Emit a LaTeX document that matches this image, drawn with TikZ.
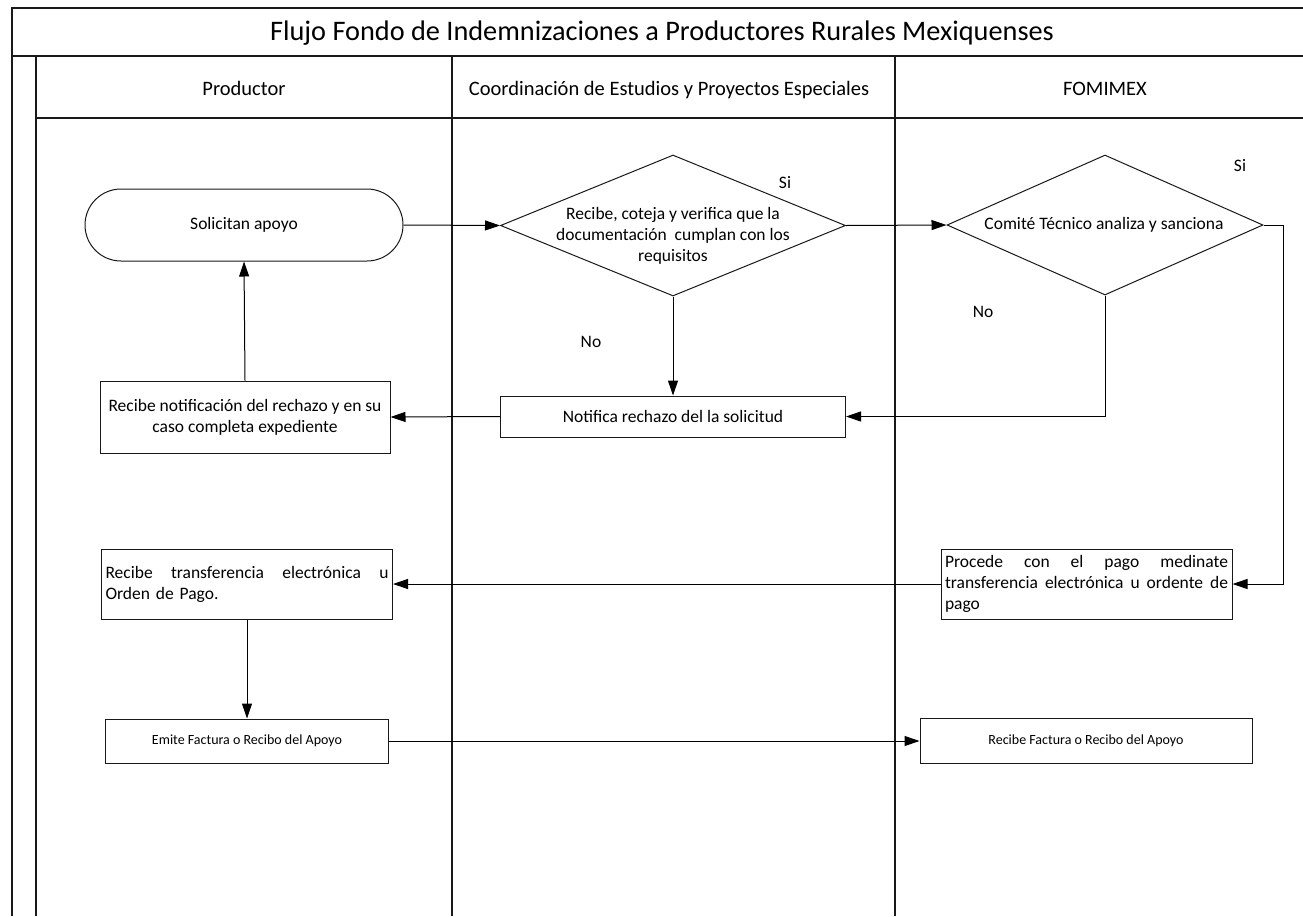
\documentclass[tikz,border=0pt]{standalone}
\usepackage{fontspec}
\setmainfont{Carlito}
\usetikzlibrary{shapes.geometric,arrows.meta}
\newcommand\fbodytxt{\fontsize{17.5}{21}\selectfont}
\newcommand\ftitletxt{\fontsize{28.3}{33}\selectfont}
\newcommand\fheadtxt{\fontsize{20.5}{24}\selectfont}
\newcommand\fsmtxt{\fontsize{14}{17}\selectfont}
\newcommand\jline[1]{\leavevmode\hbox to 283pt{#1}}
\begin{document}
\begin{tikzpicture}[x=1pt,y=-1pt,
  frameline/.style={line width=1.6pt, draw=black!90},
  box/.style={draw=black!90, line width=1pt, inner sep=0pt, font=\fbodytxt, align=center},
  term/.style={box, rounded corners=36pt},
  dia/.style={draw=black!90, diamond, line width=1pt, inner sep=0pt},
  lbl/.style={font=\fbodytxt, inner sep=0pt},
  head/.style={font=\fheadtxt, inner sep=0pt, anchor=base},
  arr/.style={line width=1pt, draw=black, -{Triangle[length=15pt,width=10pt]}}
]
\useasboundingbox (0,0) rectangle (1303,916);
\fill[white] (0,0) rectangle (1303,916);

% frame
\draw[frameline] (1303,8) -- (12,8) -- (12,916);
\draw[frameline] (12,56) -- (1303,56);
\draw[frameline] (36,56) -- (36,916);
\draw[frameline] (36,118) -- (1303,118);
\draw[frameline] (452,56) -- (452,916);
\draw[frameline] (895,56) -- (895,916);

\node[font=\ftitletxt, inner sep=0pt, anchor=base] (title) at (662,40) {Flujo Fondo de Indemnizaciones a Productores Rurales Mexiquenses};
\node[head] (h1) at (244,95) {Productor};
\node[head] (h2) at (669,95) {Coordinación de Estudios y Proyectos Especiales};
\node[head] (h3) at (1105,95) {FOMIMEX};

% nodes
\node[term, minimum width=318pt, minimum height=72pt] (sol) at (244,225) {Solicitan apoyo};
\node[dia, minimum width=345pt, minimum height=141pt] (d1) at (673,225.5) {};
\node[lbl, align=center] (d1t) at (673,236) {Recibe, coteja y verifica que la\\documentación\ \ cumplan con los\\requisitos};
\node[dia, minimum width=316pt, minimum height=140pt] (d2) at (1105,225) {};
\node[lbl] (d2t) at (1104,225) {Comité Técnico analiza y sanciona};
\node[box, minimum width=345pt, minimum height=41pt] (noti) at (673,416.5) {Notifica rechazo del la solicitud};
\node[box, minimum width=290pt, minimum height=72pt] (rnot) at (245,417) {Recibe notificación del rechazo y en su\\caso completa expediente};
\node[box, align=left, text width=283pt, inner xsep=4pt, minimum height=70pt] (rtr) at (247,584)
  {\jline{Recibe\hfill transferencia\hfill electrónica\hfill u}\\Orden de Pago.};
\node[box, align=left, text width=283pt, inner xsep=4pt, minimum height=70pt] (proc) at (1086.5,584)
  {\jline{Procede\hfill con\hfill el\hfill pago\hfill medinate}\\\jline{transferencia\hfill electrónica\hfill u\hfill ordente\hfill de}\\pago};
\node[box, font=\fsmtxt, minimum width=283pt, minimum height=44pt] (emi) at (247,741) {Emite Factura o Recibo del Apoyo};
\node[box, font=\fsmtxt, minimum width=332pt, minimum height=45pt] (rfac) at (1086,741) {Recibe Factura o Recibo del Apoyo};

% labels
\node[lbl] (si1) at (785,183) {Si};
\node[lbl] (no1) at (591,342) {No};
\node[lbl] (si2) at (1240,166) {Si};
\node[lbl] (no2) at (983,312) {No};

% connectors
\coordinate (c1) at (1283,225);
\draw[arr] (sol.east) -- (d1.west);
\draw[arr] (d1.east) -- (d2.west);
\draw[arr] (d1.south) -- (noti.north);
\draw[arr] (d2.south) |- (noti.east);
\draw[arr] (noti.west) -- (rnot.east);
\draw[arr] (rnot.north) -- (sol.south);
\draw[arr] (d2.east) -- (c1) |- (proc.east);
\draw[arr] (proc.west) -- (rtr.east);
\draw[arr] (rtr.south) -- (emi.north);
\draw[arr] (emi.east) -- (rfac.west);
\end{tikzpicture}
\end{document}
